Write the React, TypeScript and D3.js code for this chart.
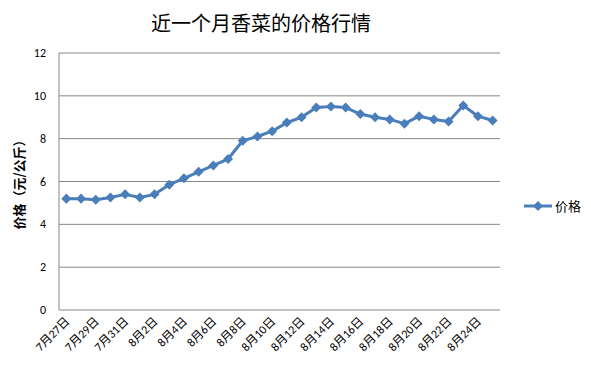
import React, { useEffect, useRef } from "react";
import * as d3 from "d3";

const dates = [
  "7月27日", "7月28日", "7月29日", "7月30日", "7月31日",
  "8月1日", "8月2日", "8月3日", "8月4日", "8月5日", "8月6日", "8月7日", "8月8日",
  "8月9日", "8月10日", "8月11日", "8月12日", "8月13日", "8月14日", "8月15日",
  "8月16日", "8月17日", "8月18日", "8月19日", "8月20日", "8月21日", "8月22日",
  "8月23日", "8月24日", "8月25日",
];
const prices = [
  5.2, 5.2, 5.15, 5.25, 5.4, 5.25, 5.4, 5.85, 6.15, 6.45,
  6.75, 7.05, 7.9, 8.1, 8.35, 8.75, 9.0, 9.45, 9.5, 9.45,
  9.15, 9.0, 8.9, 8.7, 9.05, 8.9, 8.8, 9.55, 9.05, 8.85,
];
const yTicks = [0, 2, 4, 6, 8, 10, 12];
const seriesName = "价格";

export default function App() {
  const ref = useRef<SVGSVGElement>(null);

  useEffect(() => {
    const svg = d3.select(ref.current);
    svg.selectAll("*").remove();
    const width = 591;
    const height = 372;
    const margin = { top: 53, left: 59, bottom: 62, right: 91 };
    const iwidth = width - margin.left - margin.right;
    const iheight = height - margin.top - margin.bottom;
    const font = "Calibri, 'Liberation Sans', 'Noto Sans CJK SC', sans-serif";
    const color = "#4a7ebb";

    svg.append("rect").attr("width", width).attr("height", height).attr("fill", "#fff");

    svg.append("text")
      .attr("x", 261).attr("y", 31)
      .attr("text-anchor", "middle")
      .attr("font-family", "'Noto Sans CJK SC', sans-serif")
      .attr("font-size", 20)
      .text("近一个月香菜的价格行情");

    const g = svg.append("g").attr("transform", `translate(${margin.left},${margin.top})`);

    const x = d3.scaleBand().domain(dates).range([0, iwidth]);
    const y = d3.scaleLinear().domain([0, 12]).range([iheight, 0]);

    // gridlines
    g.selectAll("line.grid").data(yTicks).enter().append("line")
      .attr("class", "grid")
      .attr("x1", 0).attr("x2", iwidth)
      .attr("y1", d => y(d)).attr("y2", d => y(d))
      .attr("stroke", "#868686").attr("stroke-width", 1);

    g.append("line")
      .attr("x1", 0).attr("x2", 0).attr("y1", 0).attr("y2", iheight)
      .attr("stroke", "#868686");

    // y tick labels
    g.selectAll("text.ytick").data(yTicks).enter().append("text")
      .attr("class", "ytick")
      .attr("x", -13).attr("y", d => y(d) + 4)
      .attr("text-anchor", "end")
      .attr("font-family", font).attr("font-size", 12)
      .text(d => d);

    // x tick labels
    g.selectAll("text.xtick").data(dates.filter((d, i) => i % 2 === 0)).enter().append("text")
      .attr("class", "xtick")
      .attr("transform", d => `translate(${x(d)! + x.bandwidth() / 2 + 4},${iheight + 12}) rotate(-45)`)
      .attr("text-anchor", "end")
      .attr("font-family", font).attr("font-size", 12)
      .text(d => d);

    // y axis title
    svg.append("text")
      .attr("transform", `translate(24,${margin.top + iheight / 2}) rotate(-90)`)
      .attr("text-anchor", "middle")
      .attr("font-family", "'Noto Sans CJK SC', sans-serif")
      .attr("font-weight", "bold").attr("font-size", 13)
      .text("价格（元/公斤）");

    const line = d3.line<number>()
      .x((d, i) => x(dates[i])! + x.bandwidth() / 2)
      .y(d => y(d));

    g.append("path").datum(prices)
      .attr("d", line)
      .attr("fill", "none")
      .attr("stroke", color).attr("stroke-width", 3)
      .attr("stroke-linejoin", "round");

    const diamond = d3.symbol().type(d3.symbolDiamond2).size(64);
    g.selectAll("path.pt").data(prices).enter().append("path")
      .attr("class", "pt")
      .attr("d", diamond)
      .attr("transform", (d, i) => `translate(${x(dates[i])! + x.bandwidth() / 2},${y(d)})`)
      .attr("fill", color);

    // legend
    const lg = svg.append("g").attr("transform", "translate(524,206)");
    lg.append("line").attr("x1", 0).attr("x2", 28).attr("stroke", color).attr("stroke-width", 3);
    lg.append("path").attr("d", diamond).attr("transform", "translate(14,0)").attr("fill", color);
    lg.append("text")
      .attr("x", 31).attr("y", 5)
      .attr("font-family", "'Noto Sans CJK SC', sans-serif").attr("font-size", 13)
      .text(seriesName);
  }, []);

  return <svg ref={ref} width={591} height={372} style={{ display: "block", margin: "-8px" }} />;
}
